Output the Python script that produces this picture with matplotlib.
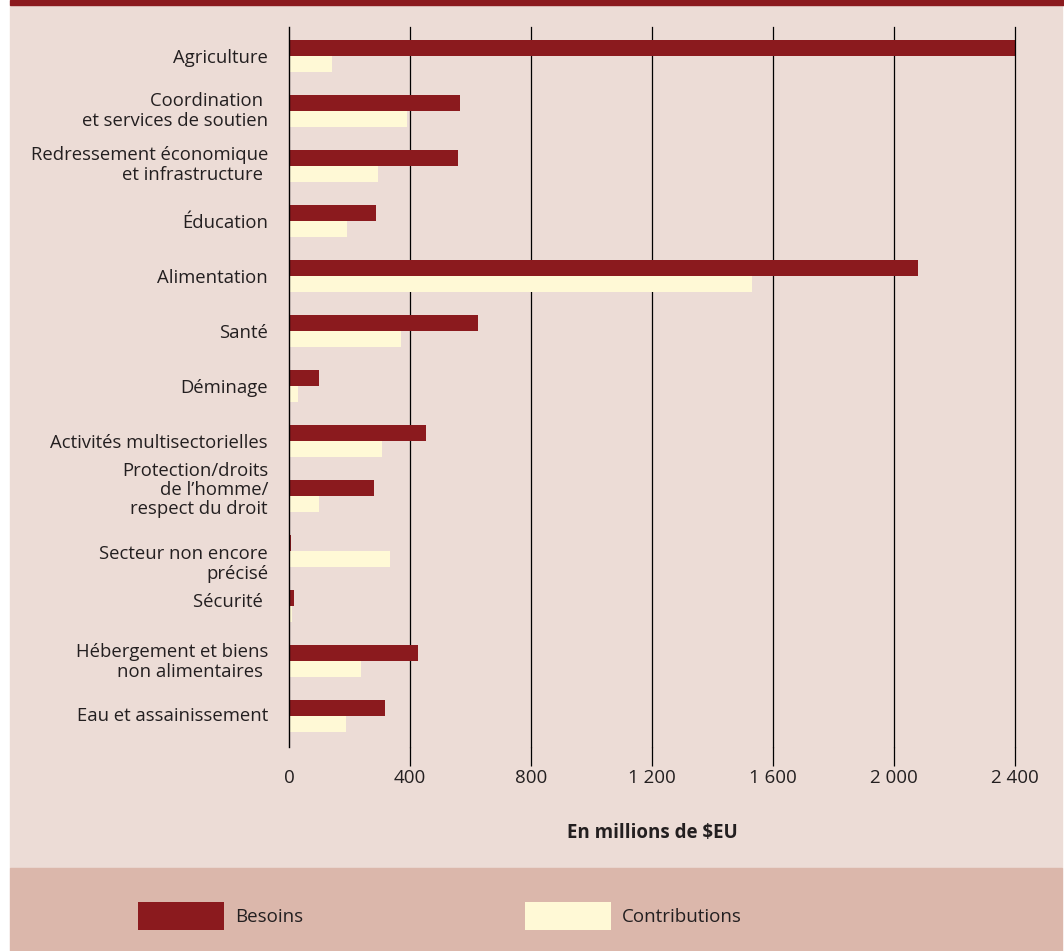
import matplotlib
matplotlib.use("Agg")
import matplotlib.pyplot as plt
import matplotlib.transforms as mtransforms
import numpy as np
from matplotlib.patches import Rectangle, Patch
from matplotlib.ticker import FuncFormatter

plt.rcParams['font.family'] = ['Open Sans', 'DejaVu Sans']

# data (millions $EU)
sectors = ["Agriculture",
           "Coordination \net services de soutien",
           "Redressement économique\net infrastructure ",
           "Éducation",
           "Alimentation",
           "Santé",
           "Déminage",
           "Activités multisectorielles",
           "Protection/droits\nde l’homme/\nrespect du droit",
           "Secteur non encore\nprécisé",
           "Sécurité ",
           "Hébergement et biens\nnon alimentaires ",
           "Eau et assainissement"]
besoins = [2400, 565, 559, 288, 2079, 625, 99, 453, 281, 5, 17, 426, 317]
contributions = [142, 390, 294, 192, 1531, 370, 30, 307, 99, 334, 10, 238, 188]
xticks = [0, 400, 800, 1200, 1600, 2000, 2400]

# small vertical nudges of the category labels (pixels, + = down)
label_shift = [2, 0, -1, 2, 2, 2, 2, 2, -6, 13, -4, 1, 0]

red = '#8b1a1e'
cream = '#fff9d6'
bg = '#ecdcd6'
band = '#dbb7ab'
txt = '#231f20'

W, H = 1064, 951
fig = plt.figure(figsize=(W / 100, H / 100), dpi=100)
fig.patch.set_facecolor('white')

# background panels
fig.add_artist(Rectangle((10 / W, 1 - 868 / H), 1052 / W, 863 / H,
                         transform=fig.transFigure, color=bg, zorder=-3))
fig.add_artist(Rectangle((10 / W, 0), 1052 / W, (951 - 868) / H,
                         transform=fig.transFigure, color=band, zorder=-3))
fig.add_artist(Rectangle((10 / W, 1 - 5 / H), 1054 / W, 5 / H,
                         transform=fig.transFigure, color=red, zorder=-2))

ax = fig.add_axes([289 / W, 1 - 747 / H, (1015 - 289) / W, 720 / H])
ax.set_facecolor('none')

y = np.arange(len(sectors))
h = 16 / 55
ax.barh(y - h / 2, besoins, height=h, color=red, zorder=3)
ax.barh(y + h / 2, contributions, height=h, color=cream, zorder=3)

ax.set_xlim(0, 2400)
ax.set_ylim(12 + 31 / 55, -29 / 55)

ax.set_yticks(y)
ax.set_yticklabels([])
ax.tick_params(axis='y', length=0)
trans = mtransforms.blended_transform_factory(ax.transAxes, ax.transData)
for yi, lab, dy in zip(y, sectors, label_shift):
    t = mtransforms.offset_copy(trans, fig=fig, x=-21, y=-dy, units='dots')
    ax.text(0, yi, lab, transform=t, ha='right', va='center',
            fontsize=13.3, color=txt, linespacing=1.1)

ax.set_xticks(xticks)
ax.xaxis.set_major_formatter(FuncFormatter(lambda v, p: f"{v:,.0f}".replace(",", " ")))
ax.tick_params(axis='x', length=14, width=0.9, color='black', pad=2,
               labelsize=13.5, labelcolor=txt)
ax.xaxis.get_major_ticks()[0].tick1line.set_visible(False)
for v in xticks[1:]:
    ax.axvline(v, color='black', lw=0.9, zorder=4 if v == 2400 else 1, clip_on=False)

for s in ['top', 'right', 'bottom']:
    ax.spines[s].set_visible(False)
ax.spines['left'].set_color('black')
ax.spines['left'].set_linewidth(1.0)
ax.spines['left'].set_zorder(4)

ax.set_xlabel("En millions de $EU", fontsize=13.5, fontweight='bold',
              color=txt, labelpad=26)

handles = [Patch(facecolor=red, label='Besoins'),
           Patch(facecolor=cream, label='Contributions')]
fig.legend(handles=handles, loc='center left',
           bbox_to_anchor=(121 / W, 1 - 916 / H), ncol=2, frameon=False,
           fontsize=13.5, handlelength=4.6, handleheight=2.0,
           handletextpad=0.6, columnspacing=11.8, labelcolor=txt)

fig.savefig('out.png', dpi=100)
